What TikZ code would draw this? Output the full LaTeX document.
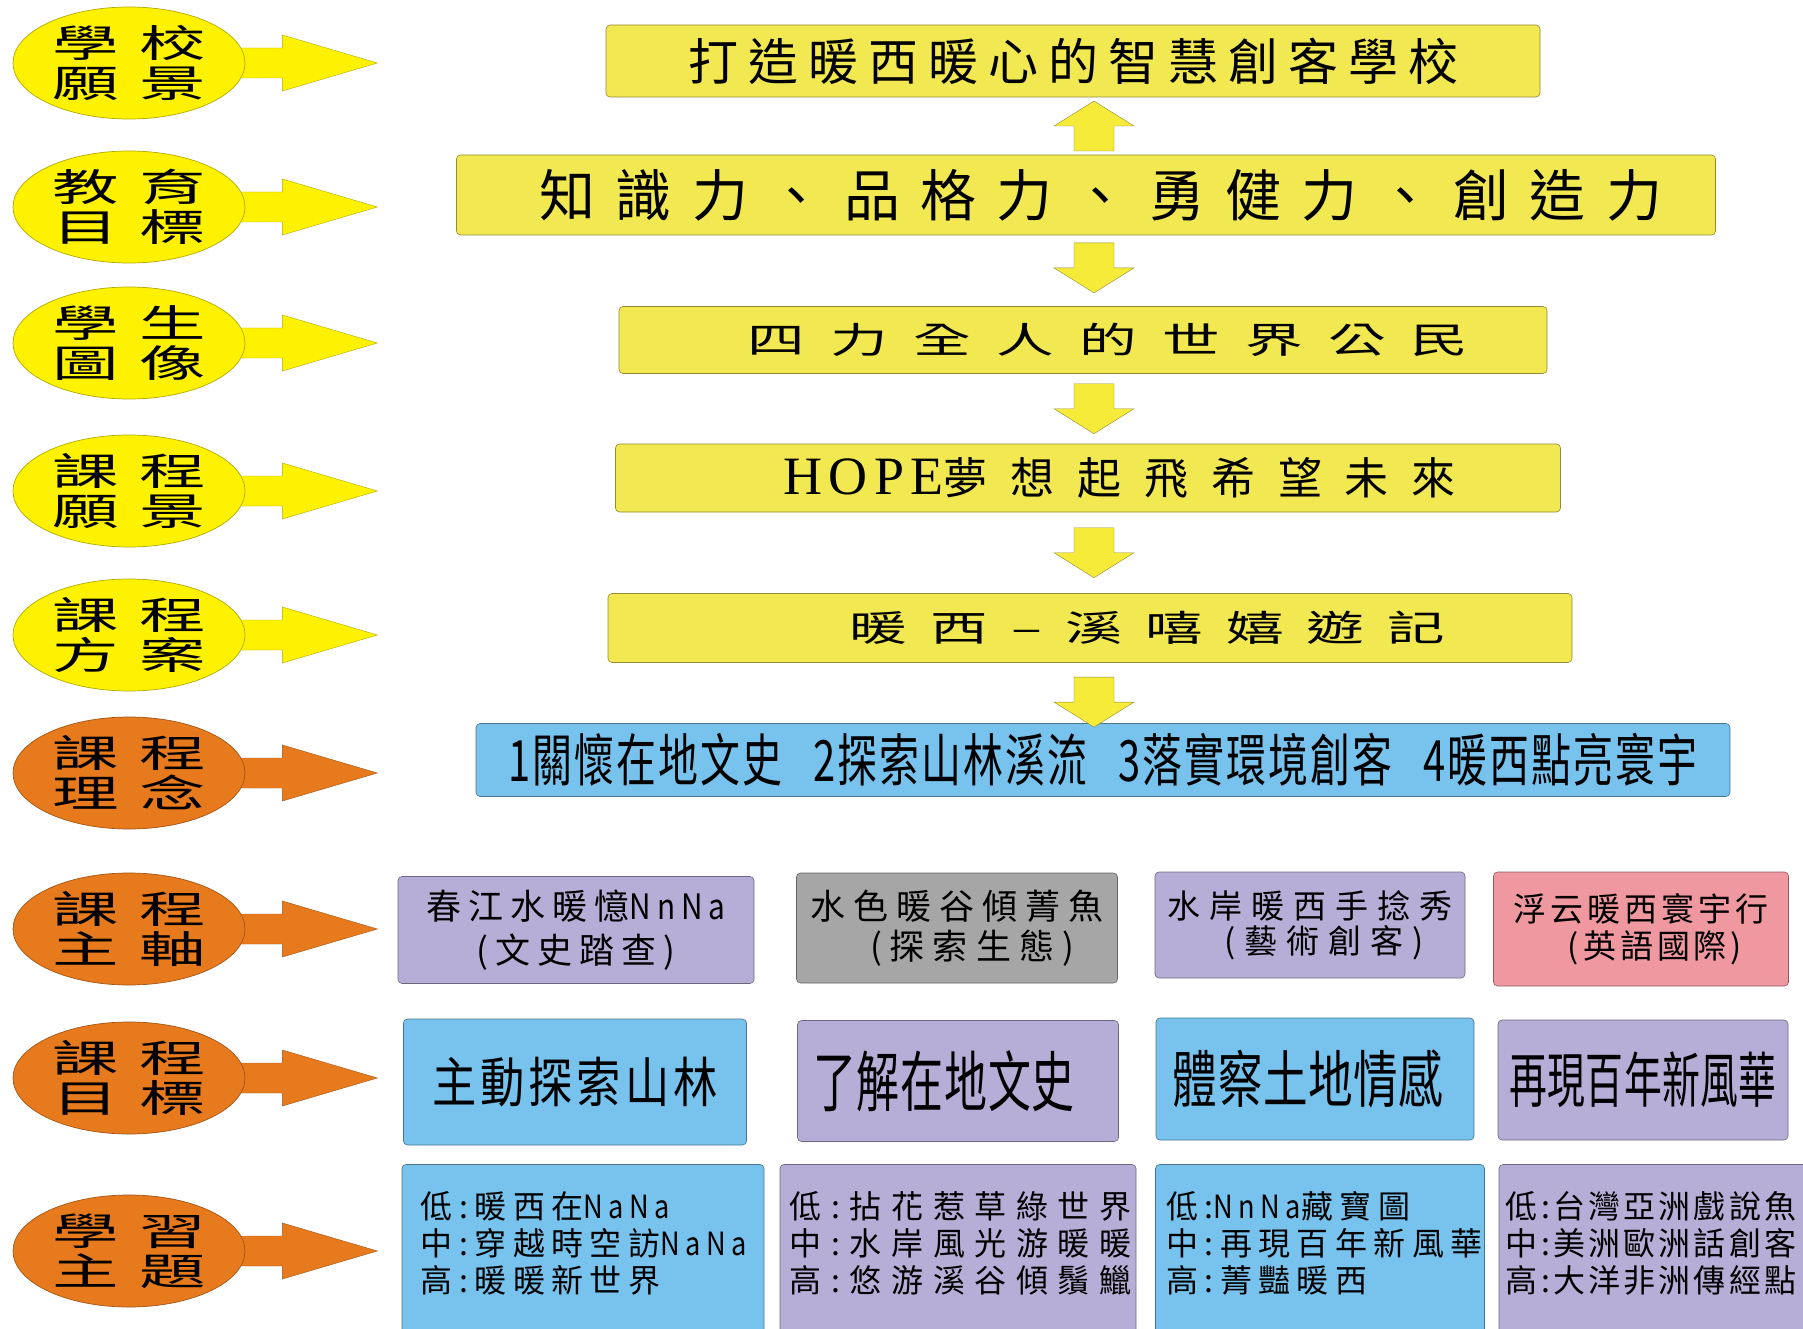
\documentclass[tikz,border=0pt]{standalone}
\usepackage{fontspec}
\usepackage{graphicx}
\usetikzlibrary{shapes,arrows,calc,backgrounds}

\newfontfamily\kai{Noto Sans CJK TC}
\newfontfamily\romn{Liberation Serif}

\definecolor{ellyel}{RGB}{255,242,0}
\definecolor{ellorg}{RGB}{232,122,30}
\definecolor{baryel}{RGB}{242,232,82}
\definecolor{skyblu}{RGB}{119,195,238}
\definecolor{lilac}{RGB}{182,174,214}
\definecolor{stone}{RGB}{166,166,166}
\definecolor{rose}{RGB}{239,152,160}

\newcommand{\fsz}[2]{\fontsize{#1}{#2}\selectfont}
\newcommand{\lsp}[1]{\addfontfeatures{LetterSpace=#1}}
\newcommand{\xs}[2]{\scalebox{#1}[1]{#2}}
\newcommand{\pr}[2]{\xs{1.75}{#1\hspace{12pt}#2}}
\newcommand{\nn}[1]{\xs{0.85}{#1}}

\begin{document}
\begin{tikzpicture}[x=1pt,y=-1pt,
     lab/.style={ellipse,draw=#1!70!black,fill=#1,line width=0.7pt,
        minimum width=232pt,minimum height=112pt,inner sep=0pt,
        align=center,font=\kai\fsz{38}{40}},
     bar/.style={draw=#1!60!black,fill=#1,line width=0.6pt,
        rounded corners=4pt,inner sep=0pt,align=center},
     topic/.style={anchor=north west,inner sep=0pt,align=left,
        font=\kai\fsz{32}{37}\lsp{#1}},
     rarr/.pic={\path[pic actions] (-12,-15) -- (37,-15) -- (37,-28) -- (132,0)
        -- (37,28) -- (37,15) -- (-12,15) -- cycle;},
     varr/.pic={\path[pic actions] (-20,-25) -- (20,-25) -- (20,0) -- (40,0)
        -- (0,25) -- (-40,0) -- (-20,0) -- cycle;}
     ]
\useasboundingbox (0,0) rectangle (1803,1329);
\clip (0,0) rectangle (1803,1329);

%Centre of the left labels
\def\ex{129}

%Labels on the left with their arrows
\foreach [count=\i] \ta/\tb/\tc/\td/\cy/\col in
   {學/校/願/景/63/ellyel, 教/育/目/標/207/ellyel, 學/生/圖/像/343/ellyel,
    課/程/願/景/491/ellyel, 課/程/方/案/635/ellyel, 課/程/理/念/773/ellorg,
    課/程/主/軸/929/ellorg, 課/程/目/標/1078/ellorg, 學/習/主/題/1251/ellorg}
{
   \node[lab=\col] (l\i) at (\ex,\cy) {\pr{\ta}{\tb}\\\pr{\tc}{\td}};
   \begin{scope}[on background layer]
      \pic[draw=\col!70!black,fill=\col] at (l\i.east) {rarr};
   \end{scope}
}

%Vision column
\node[bar=baryel,minimum width=934pt,minimum height=72pt,
      font=\kai\fsz{50}{56}\lsp{20}] (b1) at (1073,61) {打造暖西暖心的智慧創客學校};
\node[bar=baryel,minimum width=1259pt,minimum height=80pt,
      font=\kai\fsz{56}{60}\lsp{36}] (b2) at (1086,195) {\hspace{30pt}知識力、品格力、勇健力、創造力};
\node[bar=baryel,minimum width=928pt,minimum height=67pt,
      font=\kai\fsz{36}{40}\lsp{44}] (b3) at (1083,340) {\hspace{50pt}\xs{1.6}{四力全人的世界公民}};
\node[bar=baryel,minimum width=945pt,minimum height=68pt,
      font=\kai\fsz{44}{50}\lsp{52}] (b4) at (1088,478) {\hspace{63pt}{\romn\fsz{54}{58}\lsp{12}HOPE}夢想起飛希望未來};
\node[bar=baryel,minimum width=964pt,minimum height=69pt,
      font=\kai\fsz{36}{40}\lsp{40}] (b5) at (1090,628) {\hspace{115pt}\xs{1.6}{暖西–溪嘻嬉遊記}};
\node[bar=skyblu,minimum width=1254pt,minimum height=73pt,
      font=\kai\fsz{57}{62}\lsp{5}] (b6) at (1103,760)
      {\xs{0.7}{1關懷在地文史\hspace{45pt}2探索山林溪流\hspace{45pt}3落實環境創客\hspace{45pt}4暖西點亮寰宇}};

%Block arrows between the boxes
\coordinate (col) at (1094,0);
\foreach \a/\b/\p/\r in {b1/b2/.5/180, b2/b3/.46/0, b3/b4/.5/0, b4/b5/.5/0, b5/b6/.65/0}
{
   \coordinate (m) at ($(\a.south)!\p!(\b.north)$);
   \pic[draw=baryel!60!black,fill=baryel!70!ellyel,rotate=\r] at (col |- m) {varr};
}

%Course axes
\node[bar=lilac,minimum width=356pt,minimum height=107pt,
      font=\kai\fsz{35}{44}\lsp{20}] (c1) at (576,930) {春江水暖憶\nn{NnNa}\\(文史踏查)};
\node[bar=stone,minimum width=321pt,minimum height=110pt,
      font=\kai\fsz{35}{40}\lsp{23}] (c2) at (957,928) {水色暖谷傾菁魚\\\hspace*{30pt}(探索生態)};
\node[bar=lilac,minimum width=310pt,minimum height=106pt,
      font=\kai\fsz{33}{35}\lsp{27}] (c3) at (1310,925) {水岸暖西手捻秀\\\hspace*{28pt}(藝術創客)};
\node[bar=rose,minimum width=295pt,minimum height=114pt,
      font=\kai\fsz{33}{37}\lsp{12}] (c4) at (1641,929) {浮云暖西寰宇行\\\hspace*{28pt}(英語國際)};

%Course goals
\node[bar=skyblu,minimum width=343pt,minimum height=126pt,
      font=\kai\fsz{54}{60}\lsp{9}] (d1) at (575,1082) {\xs{0.82}{主動探索山林}};
\node[bar=lilac,minimum width=321pt,minimum height=121pt,
      font=\kai\fsz{66}{72}\lsp{2}] (d2) at (958,1081) {\xs{0.65}{了解在地文史}\hspace{28pt}};
\node[bar=skyblu,minimum width=318pt,minimum height=122pt,
      font=\kai\fsz{62}{68}\lsp{1}] (d3) at (1315,1079) {\xs{0.72}{體察土地情感}\hspace{14pt}};
\node[bar=lilac,minimum width=290pt,minimum height=120pt,
      font=\kai\fsz{60}{66}\lsp{1}] (d4) at (1643,1080) {\xs{0.63}{再現百年新風華}};

%Learning topics
\node[bar=skyblu,minimum width=362pt,minimum height=195pt] (e1) at (583,1262) {};
\node[bar=lilac,minimum width=356pt,minimum height=195pt] (e2) at (958,1262) {};
\node[bar=skyblu,minimum width=329pt,minimum height=195pt] (e3) at (1320,1262) {};
\node[bar=lilac,minimum width=316pt,minimum height=195pt] (e4) at (1657,1262) {};

\node[topic=20] (e1t) at ([shift={(19,27)}]e1.north west) {低:暖西在\nn{NaNa}\\中:穿越時空訪\nn{NaNa}\\高:暖暖新世界};
\node[topic=30] (e2t) at ([shift={(10,27)}]e2.north west) {低:拈花惹草綠世界\\中:水岸風光游暖暖\\高:悠游溪谷傾鬚鱲};
\node[topic=20] (e3t) at ([shift={(11,27)}]e3.north west) {低:\nn{NnNa}藏寶圖\\中:再現百年新風華\\高:菁豔暖西};
\node[topic=10] (e4t) at ([shift={(7,27)}]e4.north west) {低:台灣亞洲戲說魚\\中:美洲歐洲話創客\\高:大洋非洲傳經點};
\end{tikzpicture}
\end{document}
